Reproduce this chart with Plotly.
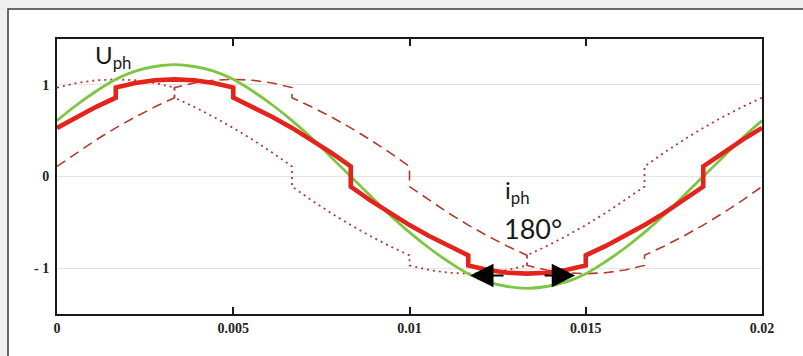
import plotly.graph_objects as go

# ---------------- data ----------------
# time grid (s), 10 electrical degrees apart
T = [0.0, 0.000556, 0.001111, 0.001667, 0.002222, 0.002778, 0.003333, 0.003889,
     0.004444, 0.005, 0.005556, 0.006111, 0.006667, 0.007222, 0.007778, 0.008333,
     0.008889, 0.009444, 0.01, 0.010556, 0.011111, 0.011667, 0.012222, 0.012778,
     0.013333, 0.013889, 0.014444, 0.015, 0.015556, 0.016111, 0.016667, 0.017222,
     0.017778, 0.018333, 0.018889, 0.019444, 0.02]

# phase voltage U_ph (green)
u_ph = [0.61, 0.78, 0.93, 1.06, 1.15, 1.20, 1.22, 1.20, 1.15, 1.06, 0.93, 0.78,
        0.61, 0.42, 0.21, 0.0, -0.21, -0.42, -0.61, -0.78, -0.93, -1.06, -1.15,
        -1.20, -1.22, -1.20, -1.15, -1.06, -0.93, -0.78, -0.61, -0.42, -0.21, 0.0,
        0.21, 0.42, 0.61]

# phase current i_ph in phase (thick red) - step points duplicated
i_red_t = [0.0, 0.000556, 0.001111, 0.001667,
           0.001667, 0.002222, 0.002778, 0.003333, 0.003889, 0.004444, 0.005,
           0.005, 0.005556, 0.006111, 0.006667, 0.007222, 0.007778, 0.008333,
           0.008333, 0.008889, 0.009444, 0.01, 0.010556, 0.011111, 0.011667,
           0.011667, 0.012222, 0.012778, 0.013333, 0.013889, 0.014444, 0.015,
           0.015, 0.015556, 0.016111, 0.016667, 0.017222, 0.017778, 0.018333,
           0.018333, 0.018889, 0.019444, 0.02]
i_red = [0.53, 0.65, 0.76, 0.86,
         0.97, 1.02, 1.05, 1.06, 1.05, 1.02, 0.97,
         0.86, 0.76, 0.65, 0.53, 0.40, 0.26, 0.11,
         -0.11, -0.26, -0.40, -0.53, -0.65, -0.76, -0.86,
         -0.97, -1.02, -1.05, -1.06, -1.05, -1.02, -0.97,
         -0.86, -0.76, -0.65, -0.53, -0.40, -0.26, -0.11,
         0.11, 0.26, 0.40, 0.53]

# leading / lagging currents (dotted / dashed) - share sector boundaries
i_shift_t = [0.0, 0.000556, 0.001111, 0.001667, 0.002222, 0.002778, 0.003333,
             0.003333, 0.003889, 0.004444, 0.005, 0.005556, 0.006111, 0.006667,
             0.006667, 0.007222, 0.007778, 0.008333, 0.008889, 0.009444, 0.01,
             0.01, 0.010556, 0.011111, 0.011667, 0.012222, 0.012778, 0.013333,
             0.013333, 0.013889, 0.014444, 0.015, 0.015556, 0.016111, 0.016667,
             0.016667, 0.017222, 0.017778, 0.018333, 0.018889, 0.019444, 0.02]
i_lead = [0.97, 1.02, 1.05, 1.06, 1.05, 1.02, 0.97,
          0.86, 0.76, 0.65, 0.53, 0.40, 0.26, 0.11,
          -0.11, -0.26, -0.40, -0.53, -0.65, -0.76, -0.86,
          -0.97, -1.02, -1.05, -1.06, -1.05, -1.02, -0.97,
          -0.86, -0.76, -0.65, -0.53, -0.40, -0.26, -0.11,
          0.11, 0.26, 0.40, 0.53, 0.65, 0.76, 0.86]
i_lag = [0.11, 0.26, 0.40, 0.53, 0.65, 0.76, 0.86,
         0.97, 1.02, 1.05, 1.06, 1.05, 1.02, 0.97,
         0.86, 0.76, 0.65, 0.53, 0.40, 0.26, 0.11,
         -0.11, -0.26, -0.40, -0.53, -0.65, -0.76, -0.86,
         -0.97, -1.02, -1.05, -1.06, -1.05, -1.02, -0.97,
         -0.86, -0.76, -0.65, -0.53, -0.40, -0.26, -0.11]

x_tickvals = [0, 0.005, 0.01, 0.015, 0.02]
x_ticktext = ["0", "0.005", "0.01", "0.015", "0.02"]
y_tickvals = [-1, 0, 1]
y_ticktext = ["- 1", "0", "1"]

# arrow (tip, tail) time positions and level for the 180° marker
arrow_left = (0.01172, 0.01271)
arrow_right = (0.01470, 0.01379)
arrow_level = -1.08

# ---------------- figure ----------------
W, H = 803, 356
ML, MR, MT, MB = 57, 41, 39, 42
PW, PH = W - ML - MR, H - MT - MB

def px_x(px):
    return (px - ML) / PW

def px_y(py):
    return (H - MB - py) / PH

DARK = "#b33a2c"
fig = go.Figure()
fig.add_trace(go.Scatter(x=i_shift_t, y=i_lag, mode="lines",
                         line=dict(color=DARK, width=1.6, dash="10px,6px")))
fig.add_trace(go.Scatter(x=i_shift_t, y=i_lead, mode="lines",
                         line=dict(color=DARK, width=1.8, dash="2px,4px")))
fig.add_trace(go.Scatter(x=T, y=u_ph, mode="lines",
                         line=dict(color="#7ec540", width=2.8, shape="spline")))
fig.add_trace(go.Scatter(x=i_red_t, y=i_red, mode="lines",
                         line=dict(color="#e4231c", width=4.6)))

ann = [
    dict(x=0.00102, y=1.31, xref="x", yref="y", text="U<sub>ph</sub>",
         showarrow=False, xanchor="left", yanchor="middle",
         font=dict(family="Lato", size=24, color="#1a1a1a")),
    dict(x=0.01265, y=-0.16, xref="x", yref="y", text="i<sub>ph</sub>",
         showarrow=False, xanchor="left", yanchor="middle",
         font=dict(family="Lato", size=24, color="#1a1a1a")),
    dict(x=0.01262, y=-0.57, xref="x", yref="y", text="180°",
         showarrow=False, xanchor="left", yanchor="middle",
         font=dict(family="Lato", size=27, color="#1a1a1a")),
]
for tip, tail in (arrow_left, arrow_right):
    ann.append(dict(x=tip, y=arrow_level, ax=tail, ay=arrow_level,
                    xref="x", yref="y", axref="x", ayref="y", text="",
                    showarrow=True, arrowhead=2, arrowsize=2.6, arrowwidth=1.8,
                    arrowcolor="#000000", standoff=0))

shapes = [
    dict(type="rect", xref="paper", yref="paper", layer="below",
         x0=px_x(8), x1=px_x(830), y0=px_y(380), y1=px_y(9),
         line=dict(color="#3a3a3a", width=1.5), fillcolor="#ffffff"),
]

fig.update_layout(
    width=W, height=H,
    margin=dict(l=ML, r=MR, t=MT, b=MB, pad=0),
    paper_bgcolor="#efefef", plot_bgcolor="#ffffff",
    showlegend=False,
    shapes=shapes, annotations=ann,
    xaxis=dict(range=[0, 0.02], tickvals=x_tickvals, ticktext=x_ticktext,
               showgrid=False, zeroline=False, showline=True, mirror="ticks",
               linecolor="#1a1a1a", linewidth=2, ticks="inside", ticklen=7,
               tickwidth=1.5, tickcolor="#1a1a1a",
               tickfont=dict(family="Liberation Serif", size=14, color="#222",
                             weight="bold")),
    yaxis=dict(range=[-1.5, 1.5], tickvals=y_tickvals, ticktext=y_ticktext,
               showgrid=True, gridcolor="#e4e4e4", gridwidth=1, zeroline=False,
               showline=True, mirror=True, linecolor="#1a1a1a", linewidth=2,
               ticks="", ticklabelstandoff=3,
               tickfont=dict(family="Liberation Serif", size=14, color="#222",
                             weight="bold")),
)

fig.write_html("out.html",
               config={"displayModeBar": False},
               post_script="document.body.style.margin='0';"
                           "document.body.style.background='#efefef';")
